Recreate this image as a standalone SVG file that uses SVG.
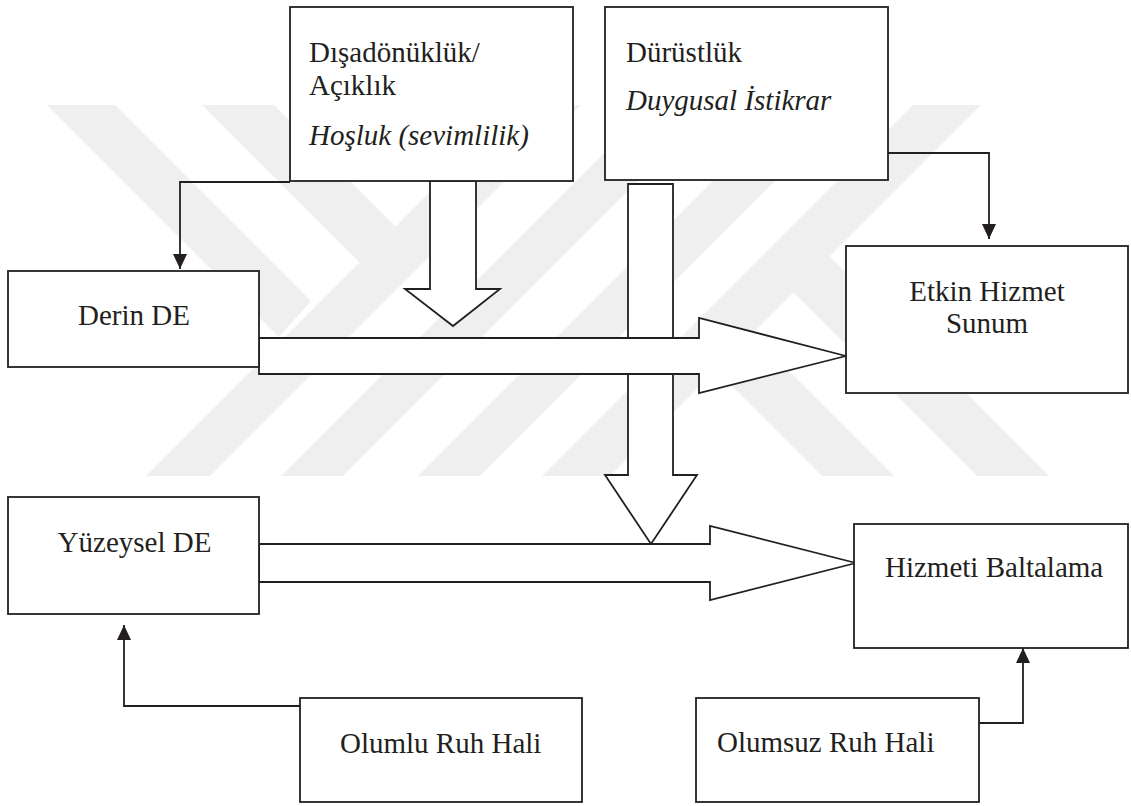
<svg xmlns="http://www.w3.org/2000/svg" width="1131" height="806" viewBox="0 0 1131 806">
<style>
.box{fill:#fff;stroke:#231f20;stroke-width:1.8}
.blk{fill:#fff;stroke:#231f20;stroke-width:1.8;stroke-linejoin:miter}
.con{fill:none;stroke:#231f20;stroke-width:1.8}
.t{font-family:"Liberation Serif","Times New Roman",serif;font-size:29px;fill:#231f20}
.i{font-style:italic}
.wm{fill:#efefef}
</style>
<defs>
<marker id="ah" markerUnits="userSpaceOnUse" markerWidth="15" markerHeight="14" refX="15" refY="7" orient="auto">
<path d="M0,0 L15,7 L0,14 z" fill="#231f20"/>
</marker>
<clipPath id="wmclip"><rect x="0" y="105" width="1131" height="371"/></clipPath>
</defs>
<rect width="1131" height="806" fill="#fff"/>
<g id="watermark" clip-path="url(#wmclip)">
<polygon class="wm" points="146,476 210,476 581,105 517,105"/>
<polygon class="wm" points="281,476 343,476 714,105 652,105"/>
<polygon class="wm" points="418,476 480,476 851,105 789,105"/>
<polygon class="wm" points="542,476 610,476 981,105 913,105"/>
<polygon class="wm" points="47,105 115,105 311,301 279,337"/>
<polygon class="wm" points="202,105 274,105 395.5,226.5 359.5,262.5"/>
<polygon class="wm" points="977,476 1049,476 829.5,256.5 793.5,292.5"/>
<polygon class="wm" points="822,476 894,476 752,334 716,370"/>
</g>
<g id="connectors">
<path class="con" d="M290,182 H180 V269" marker-end="url(#ah)"/>
<path class="con" d="M888,153 H989 V239" marker-end="url(#ah)"/>
<path class="con" d="M300,706 H124 V625" marker-end="url(#ah)"/>
<path class="con" d="M979,723 H1023 V648" marker-end="url(#ah)"/>
<polygon class="blk" points="430,181 476,181 476,289 500,289 453,326 405,289 430,289"/>
<polygon class="blk" points="628,184 673,184 673,475 697,475 651,544 605,475 628,475"/>
<polygon class="blk" points="259,338 699,338 699,318 846,356 699,393 699,374 259,374"/>
<polygon class="blk" points="259,544 710,544 710,526 856,563 710,600 710,582 259,582"/>
</g>
<g id="n-disadonukluk">
<rect class="box" x="290" y="7" width="283" height="174"/>
<text class="t" x="309" y="62">Dışadönüklük/</text>
<text class="t" x="309" y="95">Açıklık</text>
<text class="t i" x="309" y="145">Hoşluk (sevimlilik)</text>
</g>
<g id="n-durustluk">
<rect class="box" x="605" y="7" width="283" height="173"/>
<text class="t" x="626" y="62">Dürüstlük</text>
<text class="t i" x="626" y="110">Duygusal İstikrar</text>
</g>
<g id="n-derin">
<rect class="box" x="8" y="271" width="251" height="96"/>
<text class="t" x="134" y="325" text-anchor="middle">Derin DE</text>
</g>
<g id="n-etkin">
<rect class="box" x="846" y="246" width="282" height="147"/>
<text class="t" x="987" y="301" text-anchor="middle">Etkin Hizmet</text>
<text class="t" x="987" y="333" text-anchor="middle">Sunum</text>
</g>
<g id="n-yuzeysel">
<rect class="box" x="8" y="497" width="251" height="117"/>
<text class="t" x="134.5" y="552" text-anchor="middle">Yüzeysel DE</text>
</g>
<g id="n-baltalama">
<rect class="box" x="854" y="524" width="274" height="124"/>
<text class="t" x="885" y="577">Hizmeti Baltalama</text>
</g>
<g id="n-olumlu">
<rect class="box" x="300" y="698" width="282" height="104"/>
<text class="t" x="340" y="753">Olumlu Ruh Hali</text>
</g>
<g id="n-olumsuz">
<rect class="box" x="696" y="698" width="283" height="104"/>
<text class="t" x="717" y="752">Olumsuz Ruh Hali</text>
</g>
</svg>
